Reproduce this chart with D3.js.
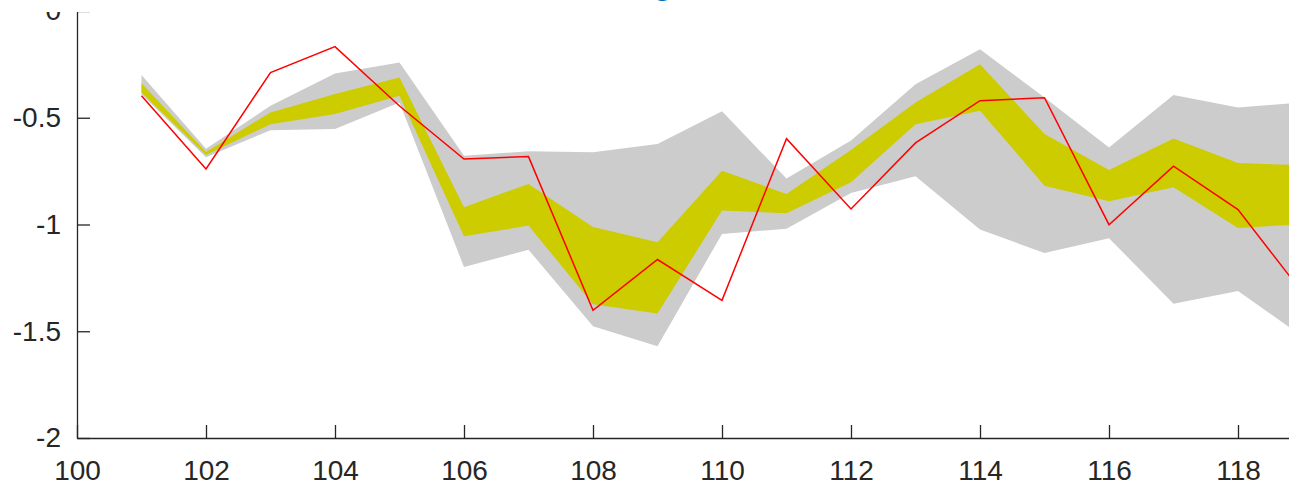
<!DOCTYPE html>
<html>
<head>
<meta charset="utf-8">
<script src="https://cdn.jsdelivr.net/npm/d3@7"></script>
<style>
  html, body { margin: 0; padding: 0; background: #fff; overflow: hidden; }
  svg { display: block; font-family: "Liberation Sans", Arial, Helvetica, sans-serif; }
</style>
</head>
<body>
<svg id="chart" width="1289" height="486"></svg>
<script>
// ---- data ----
const xValues = [101, 102, 103, 104, 105, 106, 107, 108, 109, 110, 111, 112, 113, 114, 115, 116, 117, 118, 119];
const grayUpper = [-0.300, -0.645, -0.444, -0.293, -0.241, -0.678, -0.657, -0.662, -0.623, -0.470, -0.785, -0.607, -0.343, -0.179, -0.405, -0.639, -0.393, -0.452, -0.428];
const grayLower = [-0.390, -0.685, -0.558, -0.553, -0.428, -1.199, -1.118, -1.477, -1.570, -1.044, -1.020, -0.852, -0.774, -1.023, -1.134, -1.064, -1.371, -1.312, -1.524];
const yellowUpper = [-0.338, -0.660, -0.475, -0.389, -0.312, -0.919, -0.810, -1.012, -1.083, -0.748, -0.857, -0.651, -0.428, -0.249, -0.576, -0.745, -0.597, -0.712, -0.723];
const yellowLower = [-0.382, -0.675, -0.530, -0.483, -0.397, -1.055, -1.005, -1.374, -1.417, -0.935, -0.947, -0.802, -0.530, -0.467, -0.818, -0.891, -0.826, -1.016, -0.998];
const actual = [-0.397, -0.740, -0.288, -0.167, -0.445, -0.693, -0.682, -1.402, -1.164, -1.355, -0.598, -0.927, -0.618, -0.420, -0.406, -1.001, -0.727, -0.930, -1.320];
const xTicks = [100, 102, 104, 106, 108, 110, 112, 114, 116, 118];
const yTicks = [0, -0.5, -1, -1.5, -2];
const yTickLabels = ["0", "-0.5", "-1", "-1.5", "-2"];
const titleText = "Forecasting";

// ---- layout ----
const svg = d3.select("#chart");
const mLeft = 77, mBottom = 438, mTop = 11;
const x = d3.scaleLinear().domain([100, 120]).range([mLeft, mLeft + 20 * 64.5]);
const y = d3.scaleLinear().domain([-2, 0]).range([mBottom, mTop]);

const rows = xValues.map((xv, i) => ({
  x: xv, gu: grayUpper[i], gl: grayLower[i], yu: yellowUpper[i], yl: yellowLower[i], a: actual[i]
}));

// gray band
svg.append("path")
  .datum(rows)
  .attr("fill", "#cccccc")
  .attr("d", d3.area().x(d => x(d.x)).y0(d => y(d.gl)).y1(d => y(d.gu)));

// yellow band
svg.append("path")
  .datum(rows)
  .attr("fill", "#cccc00")
  .attr("d", d3.area().x(d => x(d.x)).y0(d => y(d.yl)).y1(d => y(d.yu)));

// red line
svg.append("path")
  .datum(rows)
  .attr("fill", "none")
  .attr("stroke", "#ff0000")
  .attr("stroke-width", 1.5)
  .attr("d", d3.line().x(d => x(d.x)).y(d => y(d.a)));

// clip for the y axis (top of the figure is cut)
svg.append("defs").append("clipPath").attr("id", "ylabclip")
  .append("rect").attr("x", -100).attr("y", 12).attr("width", 300).attr("height", 480);

const axisColor = "#262626";

// x axis
const gx = svg.append("g")
  .attr("transform", `translate(0,${mBottom})`)
  .call(d3.axisBottom(x).tickValues(xTicks).tickFormat(d3.format("d"))
    .tickSizeInner(-13).tickSizeOuter(0).tickPadding(22));
gx.select(".domain").attr("stroke", axisColor).attr("stroke-width", 1.3);
gx.selectAll(".tick line").attr("stroke", axisColor).attr("stroke-width", 1.3);
gx.selectAll(".tick text").attr("fill", axisColor).attr("font-size", 28)
  .attr("font-family", "'Liberation Sans', Arial, sans-serif");

// y axis
const gyWrap = svg.append("g").attr("clip-path", "url(#ylabclip)");
const gy = gyWrap.append("g")
  .attr("transform", `translate(${mLeft},0)`)
  .call(d3.axisLeft(y).tickValues(yTicks).tickFormat((d, i) => yTickLabels[i])
    .tickSizeInner(-13).tickSizeOuter(0).tickPadding(16));
gy.select(".domain").attr("stroke", axisColor).attr("stroke-width", 1.3);
gy.selectAll(".tick line").attr("stroke", axisColor).attr("stroke-width", 1.3);
gy.selectAll(".tick text").attr("fill", axisColor).attr("font-size", 28)
  .attr("font-family", "'Liberation Sans', Arial, sans-serif");

// title (mostly above the visible area)
svg.append("text")
  .attr("x", 672).attr("y", -5)
  .attr("text-anchor", "end")
  .attr("font-size", 30).attr("font-weight", "bold")
  .attr("fill", "#0072bd")
  .text(titleText);
</script>
</body>
</html>
